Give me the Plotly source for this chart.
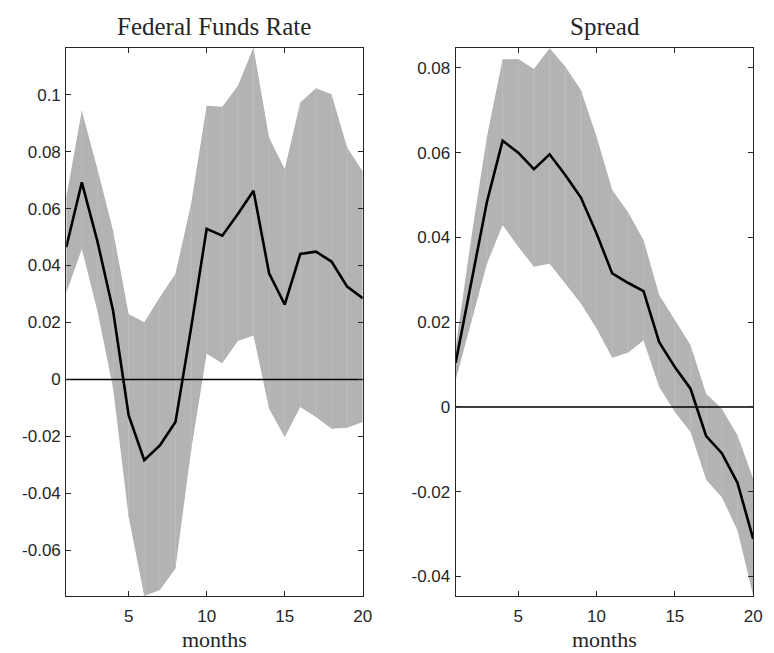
import plotly.graph_objects as go

months = list(range(1, 21))

# Federal Funds Rate
ffr_median = [0.0464, 0.0692, 0.0485, 0.0242, -0.0126, -0.0284, -0.0232, -0.0150, 0.0180, 0.0529,
              0.0505, 0.0581, 0.0663, 0.0373, 0.0263, 0.0441, 0.0449, 0.0414, 0.0326, 0.0285]
ffr_upper = [0.0640, 0.0944, 0.0739, 0.0523, 0.0230, 0.0201, 0.0289, 0.0371, 0.0616, 0.0961,
             0.0958, 0.1032, 0.1166, 0.0850, 0.0739, 0.0973, 0.1023, 0.1002, 0.0815, 0.0731]
ffr_lower = [0.0303, 0.0458, 0.0240, -0.0030, -0.0483, -0.0761, -0.0740, -0.0664, -0.0250, 0.0090,
             0.0057, 0.0135, 0.0154, -0.0103, -0.0202, -0.0097, -0.0132, -0.0173, -0.0170, -0.0150]

# Spread
spr_median = [0.0104, 0.0290, 0.0484, 0.0628, 0.0600, 0.0561, 0.0596, 0.0547, 0.0494, 0.0409,
              0.0315, 0.0293, 0.0273, 0.0153, 0.0094, 0.0043, -0.0069, -0.0109, -0.0179, -0.0311]
spr_upper = [0.0140, 0.0400, 0.0638, 0.0820, 0.0821, 0.0797, 0.0846, 0.0803, 0.0748, 0.0638,
             0.0512, 0.0460, 0.0394, 0.0264, 0.0205, 0.0146, 0.0031, -0.0004, -0.0067, -0.0169]
spr_lower = [0.0063, 0.0200, 0.0338, 0.0429, 0.0378, 0.0331, 0.0338, 0.0291, 0.0244, 0.0185,
             0.0116, 0.0128, 0.0157, 0.0047, -0.0012, -0.0059, -0.0172, -0.0213, -0.0291, -0.0445]

x_ticks = [5, 10, 15, 20]
x_ticktext = ["5", "10", "15", "20"]
ffr_yticks = [-0.06, -0.04, -0.02, 0, 0.02, 0.04, 0.06, 0.08, 0.1]
ffr_yticktext = ["-0.06", "-0.04", "-0.02", "0", "0.02", "0.04", "0.06", "0.08", "0.1"]
spr_yticks = [-0.04, -0.02, 0, 0.02, 0.04, 0.06, 0.08]
spr_yticktext = ["-0.04", "-0.02", "0", "0.02", "0.04", "0.06", "0.08"]

titles = ["Federal Funds Rate", "Spread"]
xlabel = "months"

BAND = "#b3b3b3"
SEAM = "#c2c2c2"
AX = "#262626"
SERIF = "Liberation Serif"
SANS = "Liberation Sans"

fig = go.Figure()

panels = [
    (ffr_median, ffr_upper, ffr_lower, "x", "y"),
    (spr_median, spr_upper, spr_lower, "x2", "y2"),
]
for med, up, lo, xa, ya in panels:
    fig.add_trace(go.Scatter(x=months, y=up, mode="lines", line=dict(width=0, color=BAND),
                             xaxis=xa, yaxis=ya, showlegend=False, hoverinfo="skip"))
    fig.add_trace(go.Scatter(x=months, y=lo, mode="lines", line=dict(width=0, color=BAND),
                             fill="tonexty", fillcolor=BAND,
                             xaxis=xa, yaxis=ya, showlegend=False, hoverinfo="skip"))
    # faint patch seams (as in MATLAB fill rendering)
    sx, sy = [], []
    for i, m in enumerate(months[1:-1], start=1):
        sx += [m, m, None]
        sy += [lo[i], up[i], None]
    fig.add_trace(go.Scatter(x=sx, y=sy, mode="lines", line=dict(width=0.7, color=SEAM),
                             xaxis=xa, yaxis=ya, showlegend=False, hoverinfo="skip"))
    fig.add_trace(go.Scatter(x=[months[0], months[-1]], y=[0, 0], mode="lines",
                             line=dict(width=1.5, color="black"),
                             xaxis=xa, yaxis=ya, showlegend=False, hoverinfo="skip"))
    fig.add_trace(go.Scatter(x=months, y=med, mode="lines", line=dict(width=2.6, color="black"),
                             xaxis=xa, yaxis=ya, showlegend=False))

W, H = 774, 653
def fx(px):
    return px / W
def fy(py):
    return 1 - py / H

axis_common = dict(showline=True, linecolor=AX, linewidth=1, mirror="allticks",
                   ticks="inside", ticklen=5, tickwidth=1, tickcolor=AX,
                   showgrid=False, zeroline=False,
                   tickfont=dict(family=SANS, size=17, color=AX))

fig.update_layout(
    width=W, height=H,
    margin=dict(l=0, r=0, t=0, b=0),
    plot_bgcolor="white", paper_bgcolor="white",
    xaxis=dict(domain=[fx(67), fx(367)], range=[1, 20], tickvals=x_ticks, ticktext=x_ticktext,
               anchor="y", ticklabelstandoff=5, **axis_common),
    yaxis=dict(domain=[fy(596), fy(47.5)], range=[-0.0761, 0.1166], tickvals=ffr_yticks,
               ticktext=ffr_yticktext, anchor="x", ticklabelstandoff=1, **axis_common),
    xaxis2=dict(domain=[fx(461), fx(762)], range=[1, 20], tickvals=x_ticks, ticktext=x_ticktext,
                anchor="y2", ticklabelstandoff=5, **axis_common),
    yaxis2=dict(domain=[fy(596), fy(47.5)], range=[-0.0446, 0.0848], tickvals=spr_yticks,
                ticktext=spr_yticktext, anchor="x2", ticklabelstandoff=1, **axis_common),
)

centers = [217, 612]
for c, t in zip(centers, titles):
    fig.add_annotation(x=fx(c), y=fy(27), xref="paper", yref="paper", text=t, showarrow=False,
                       xanchor="center", yanchor="middle",
                       font=dict(family=SERIF, size=25, color=AX))
    fig.add_annotation(x=fx(c), y=0, xref="paper", yref="paper", text=xlabel, showarrow=False,
                       xanchor="center", yanchor="bottom", borderpad=0,
                       font=dict(family=SERIF, size=22, color=AX))

fig.write_html("out.html")
